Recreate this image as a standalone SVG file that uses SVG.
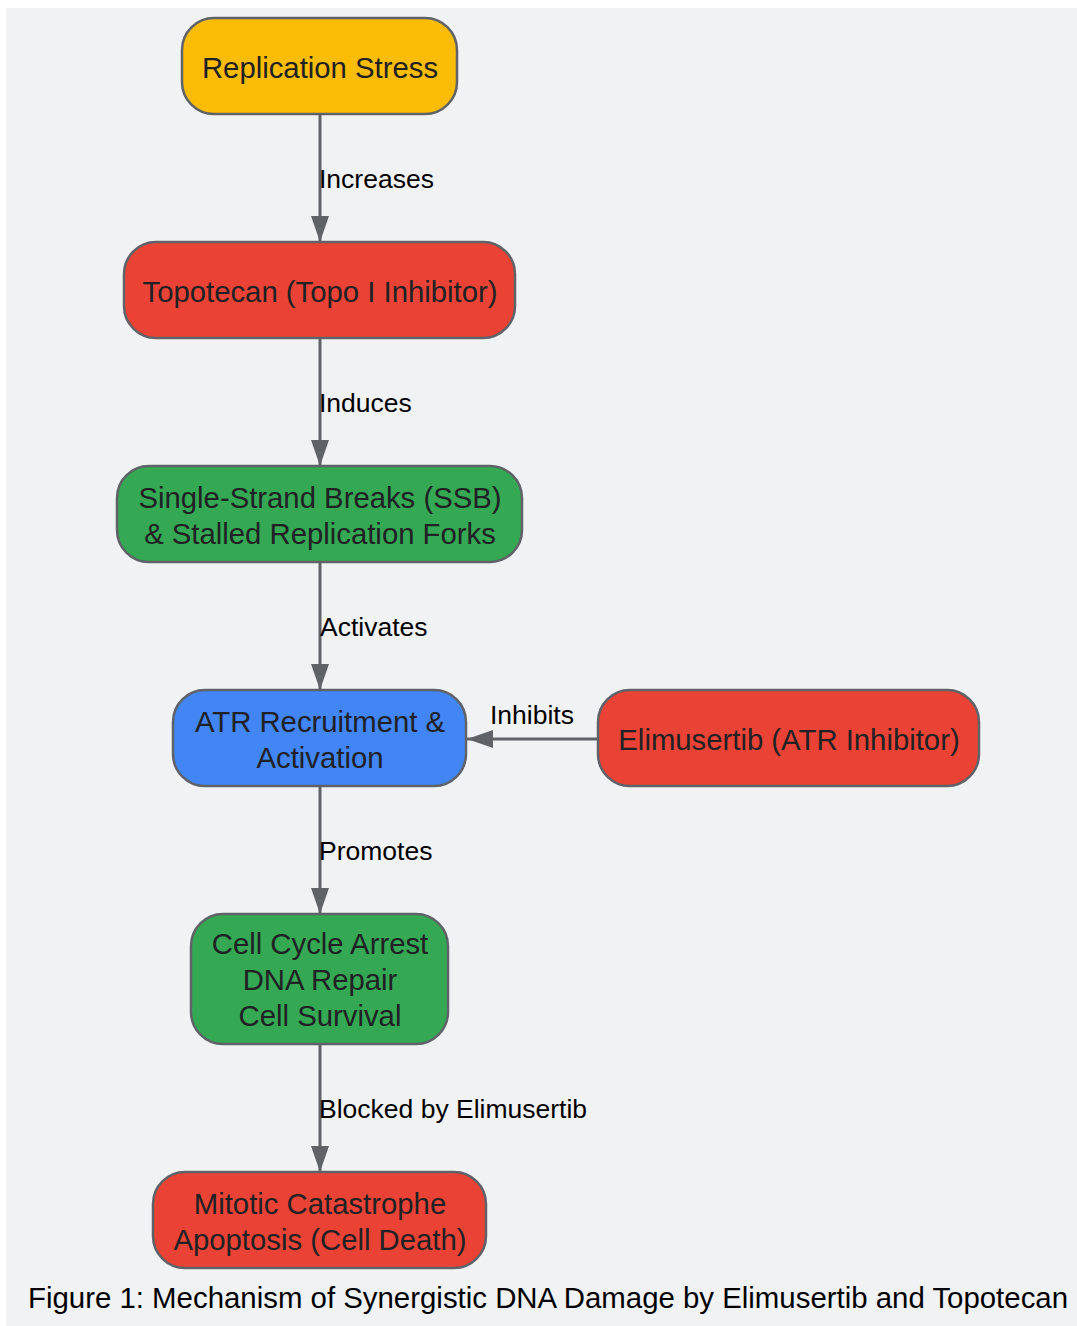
<svg xmlns="http://www.w3.org/2000/svg" width="1077" height="1326" viewBox="0 0 1077 1326">
<defs>
<marker id="arr" markerWidth="26" markerHeight="18" refX="26" refY="9" orient="auto" markerUnits="userSpaceOnUse">
<path d="M0,0 L26,9 L0,18 Z" fill="#5f6368"/>
</marker>
<style>
.n{stroke:#5f6368;stroke-width:2.5}
.t{font-family:"Liberation Sans",Arial,sans-serif;font-size:29.3px;fill:#202124;text-anchor:middle;dominant-baseline:central}
.l{font-family:"Liberation Sans",Arial,sans-serif;font-size:26.5px;fill:#000;dominant-baseline:central}
.e{stroke:#5f6368;stroke-width:3;fill:none;marker-end:url(#arr)}
</style>
</defs>
<rect x="6" y="8" width="1071" height="1318" fill="#f1f2f4"/>
<g id="connectors">
<line class="e" x1="320" y1="114" x2="320" y2="242"/>
<text class="l" x="319" y="179">Increases</text>
<line class="e" x1="320" y1="338" x2="320" y2="466"/>
<text class="l" x="319" y="403">Induces</text>
<line class="e" x1="320" y1="562" x2="320" y2="690"/>
<text class="l" x="320" y="627">Activates</text>
<line class="e" x1="598" y1="739" x2="467" y2="739"/>
<text class="l" x="490" y="715">Inhibits</text>
<line class="e" x1="320" y1="786" x2="320" y2="914"/>
<text class="l" x="319" y="851">Promotes</text>
<line class="e" x1="320" y1="1044" x2="320" y2="1172"/>
<text class="l" x="319" y="1109">Blocked by Elimusertib</text>
</g>
<g id="n1"><rect class="n" x="182" y="18" width="275" height="96" rx="32" fill="#fbbc05"/><text class="t" x="320" y="67">Replication Stress</text></g>
<g id="n2"><rect class="n" x="124" y="242" width="391" height="96" rx="32" fill="#ea4335"/><text class="t" x="320" y="291">Topotecan (Topo I Inhibitor)</text></g>
<g id="n3"><rect class="n" x="117" y="466" width="405" height="96" rx="32" fill="#34a853"/><text class="t" x="320" y="497">Single-Strand Breaks (SSB)</text><text class="t" x="320" y="533">&amp; Stalled Replication Forks</text></g>
<g id="n4"><rect class="n" x="173" y="690" width="293" height="96" rx="32" fill="#4285f4"/><text class="t" x="320" y="721">ATR Recruitment &amp;</text><text class="t" x="320" y="757">Activation</text></g>
<g id="n7"><rect class="n" x="598" y="690" width="381" height="96" rx="32" fill="#ea4335"/><text class="t" x="789" y="739">Elimusertib (ATR Inhibitor)</text></g>
<g id="n5"><rect class="n" x="191" y="914" width="257" height="130" rx="32" fill="#34a853"/><text class="t" x="320" y="943">Cell Cycle Arrest</text><text class="t" x="320" y="979">DNA Repair</text><text class="t" x="320" y="1015">Cell Survival</text></g>
<g id="n6"><rect class="n" x="153" y="1172" width="333" height="96" rx="32" fill="#ea4335"/><text class="t" x="320" y="1203">Mitotic Catastrophe</text><text class="t" x="320" y="1239">Apoptosis (Cell Death)</text></g>
<text x="548" y="1297" font-family="Liberation Sans,Arial,sans-serif" font-size="29.4" fill="#000" text-anchor="middle" dominant-baseline="central">Figure 1: Mechanism of Synergistic DNA Damage by Elimusertib and Topotecan</text>
</svg>
